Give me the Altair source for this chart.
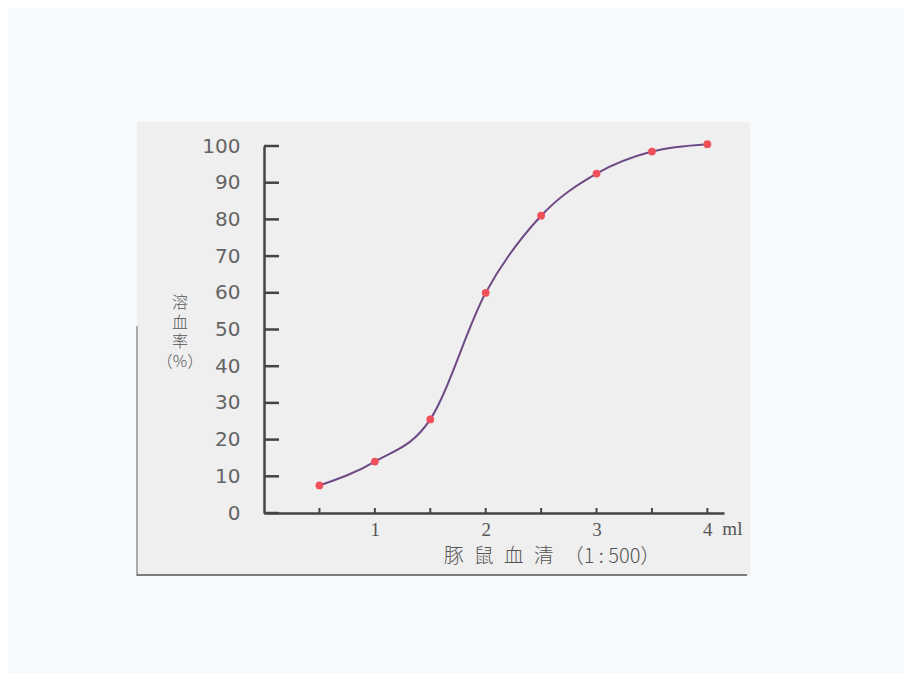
import altair as alt
import pandas as pd

# data
serum_ml = [0.5, 1.0, 1.5, 2.0, 2.5, 3.0, 3.5, 4.0]
hemolysis = [7.5, 14, 25.5, 60, 81, 92.5, 98.5, 100.5]
y_ticks = [0, 10, 20, 30, 40, 50, 60, 70, 80, 90, 100]
x_ticks = [0.5, 1.0, 1.5, 2.0, 2.5, 3.0, 3.5, 4.0]
x_labels = [1, 2, 3, 4]

df = pd.DataFrame({"x": serum_ml, "y": hemolysis})
df_yt = pd.DataFrame({"y": y_ticks})
df_xt = pd.DataFrame({"x": x_ticks})

W, H = 460, 367
xs = alt.Scale(domain=[0, 4.15], nice=False, zero=False)
ys = alt.Scale(domain=[0, 100], nice=False)

ax_x = alt.Axis(
    values=x_labels, format="d", tickSize=0, labelPadding=7, domainColor="#444444", domainWidth=2.5, zindex=2,
    labelOverlap=False, labelFlush=False,
    labelFont="Liberation Serif", labelFontSize=19, labelColor="#555555", grid=False, title=None)
ax_y = alt.Axis(
    values=y_ticks, format="d", tickSize=0, labelPadding=24, domainColor="#444444", domainWidth=2.5, zindex=2,
    labelOverlap=False, labelFlush=False,
    labelFont="DejaVu Sans", labelFontSize=20, labelColor="#646464", grid=False, title=None)

# scanned-page backdrop and frame lines (decoration)
backdrop = alt.Chart(pd.DataFrame({"a": [0]})).mark_rect(color="#efefef", clip=False).encode(
    x=alt.value(-127), x2=alt.value(486), y=alt.value(-24), y2=alt.value(430)
)
frame_bottom = alt.Chart(pd.DataFrame({"a": [0]})).mark_rule(color="#555555", strokeWidth=1.5, clip=False).encode(
    x=alt.value(-127), x2=alt.value(483), y=alt.value(429)
)
frame_left = alt.Chart(pd.DataFrame({"a": [0]})).mark_rule(color="#777777", strokeWidth=1.2, clip=False).encode(
    x=alt.value(-127), y=alt.value(180), y2=alt.value(430)
)

base_axes = alt.Chart(df).mark_point(opacity=0).encode(
    x=alt.X("x:Q", scale=xs, axis=ax_x),
    y=alt.Y("y:Q", scale=ys, axis=ax_y),
)

ytick_marks = alt.Chart(df_yt).mark_rule(color="#444444", strokeWidth=2.5).encode(
    y=alt.Y("y:Q", scale=ys, axis=ax_y), x=alt.value(0), x2=alt.value(15)
)
xtick_marks = alt.Chart(df_xt).mark_rule(color="#444444", strokeWidth=2).encode(
    x=alt.X("x:Q", scale=xs, axis=ax_x), y=alt.value(H - 5), y2=alt.value(H)
)

line = alt.Chart(df).mark_line(color="#6e4a86", strokeWidth=2, interpolate="monotone").encode(
    x=alt.X("x:Q", scale=xs, axis=ax_x), y=alt.Y("y:Q", scale=ys, axis=ax_y)
)
points = alt.Chart(df).mark_point(filled=True, color="#f0505a", size=60, opacity=1).encode(
    x=alt.X("x:Q", scale=xs, axis=ax_x), y=alt.Y("y:Q", scale=ys, axis=ax_y)
)

ml_text = alt.Chart(pd.DataFrame({"x": [4.0], "t": ["ml"]})).mark_text(
    font="Liberation Serif", fontSize=19, color="#555555", align="left", baseline="middle", dx=15, dy=16, clip=False
).encode(x=alt.X("x:Q", scale=xs, axis=ax_x), y=alt.value(H), text="t:N")

x_title = alt.Chart(pd.DataFrame({"t": ["豚\u2002鼠\u2002血\u2002清\u2002（1 : 500）"]})).mark_text(
    font="Noto Sans CJK SC", fontSize=20, fontWeight=300, color="#555555", align="center", baseline="middle", clip=False
).encode(x=alt.value(288), y=alt.value(411), text="t:N")

y_title = alt.Chart(pd.DataFrame({"t": [["溶", "血", "率", "（%）"]]})).mark_text(
    font="Noto Sans CJK SC", fontSize=16, fontWeight=300, color="#555555", align="center", baseline="middle",
    lineHeight=19.5, clip=False
).encode(x=alt.value(-84), y=alt.value(157), text="t")

chart = alt.layer(
    backdrop, frame_bottom, frame_left, base_axes, ytick_marks, xtick_marks, line, points, ml_text, x_title, y_title
).properties(
    width=W, height=H, background="#f7fafc",
    padding={"left": 256, "top": 138, "right": 180, "bottom": 160},
    autosize=alt.AutoSizeParams(type="none"),
).configure_view(stroke=None, fill=None)

chart.save("out.html", embed_options={"renderer": "svg", "actions": False})
